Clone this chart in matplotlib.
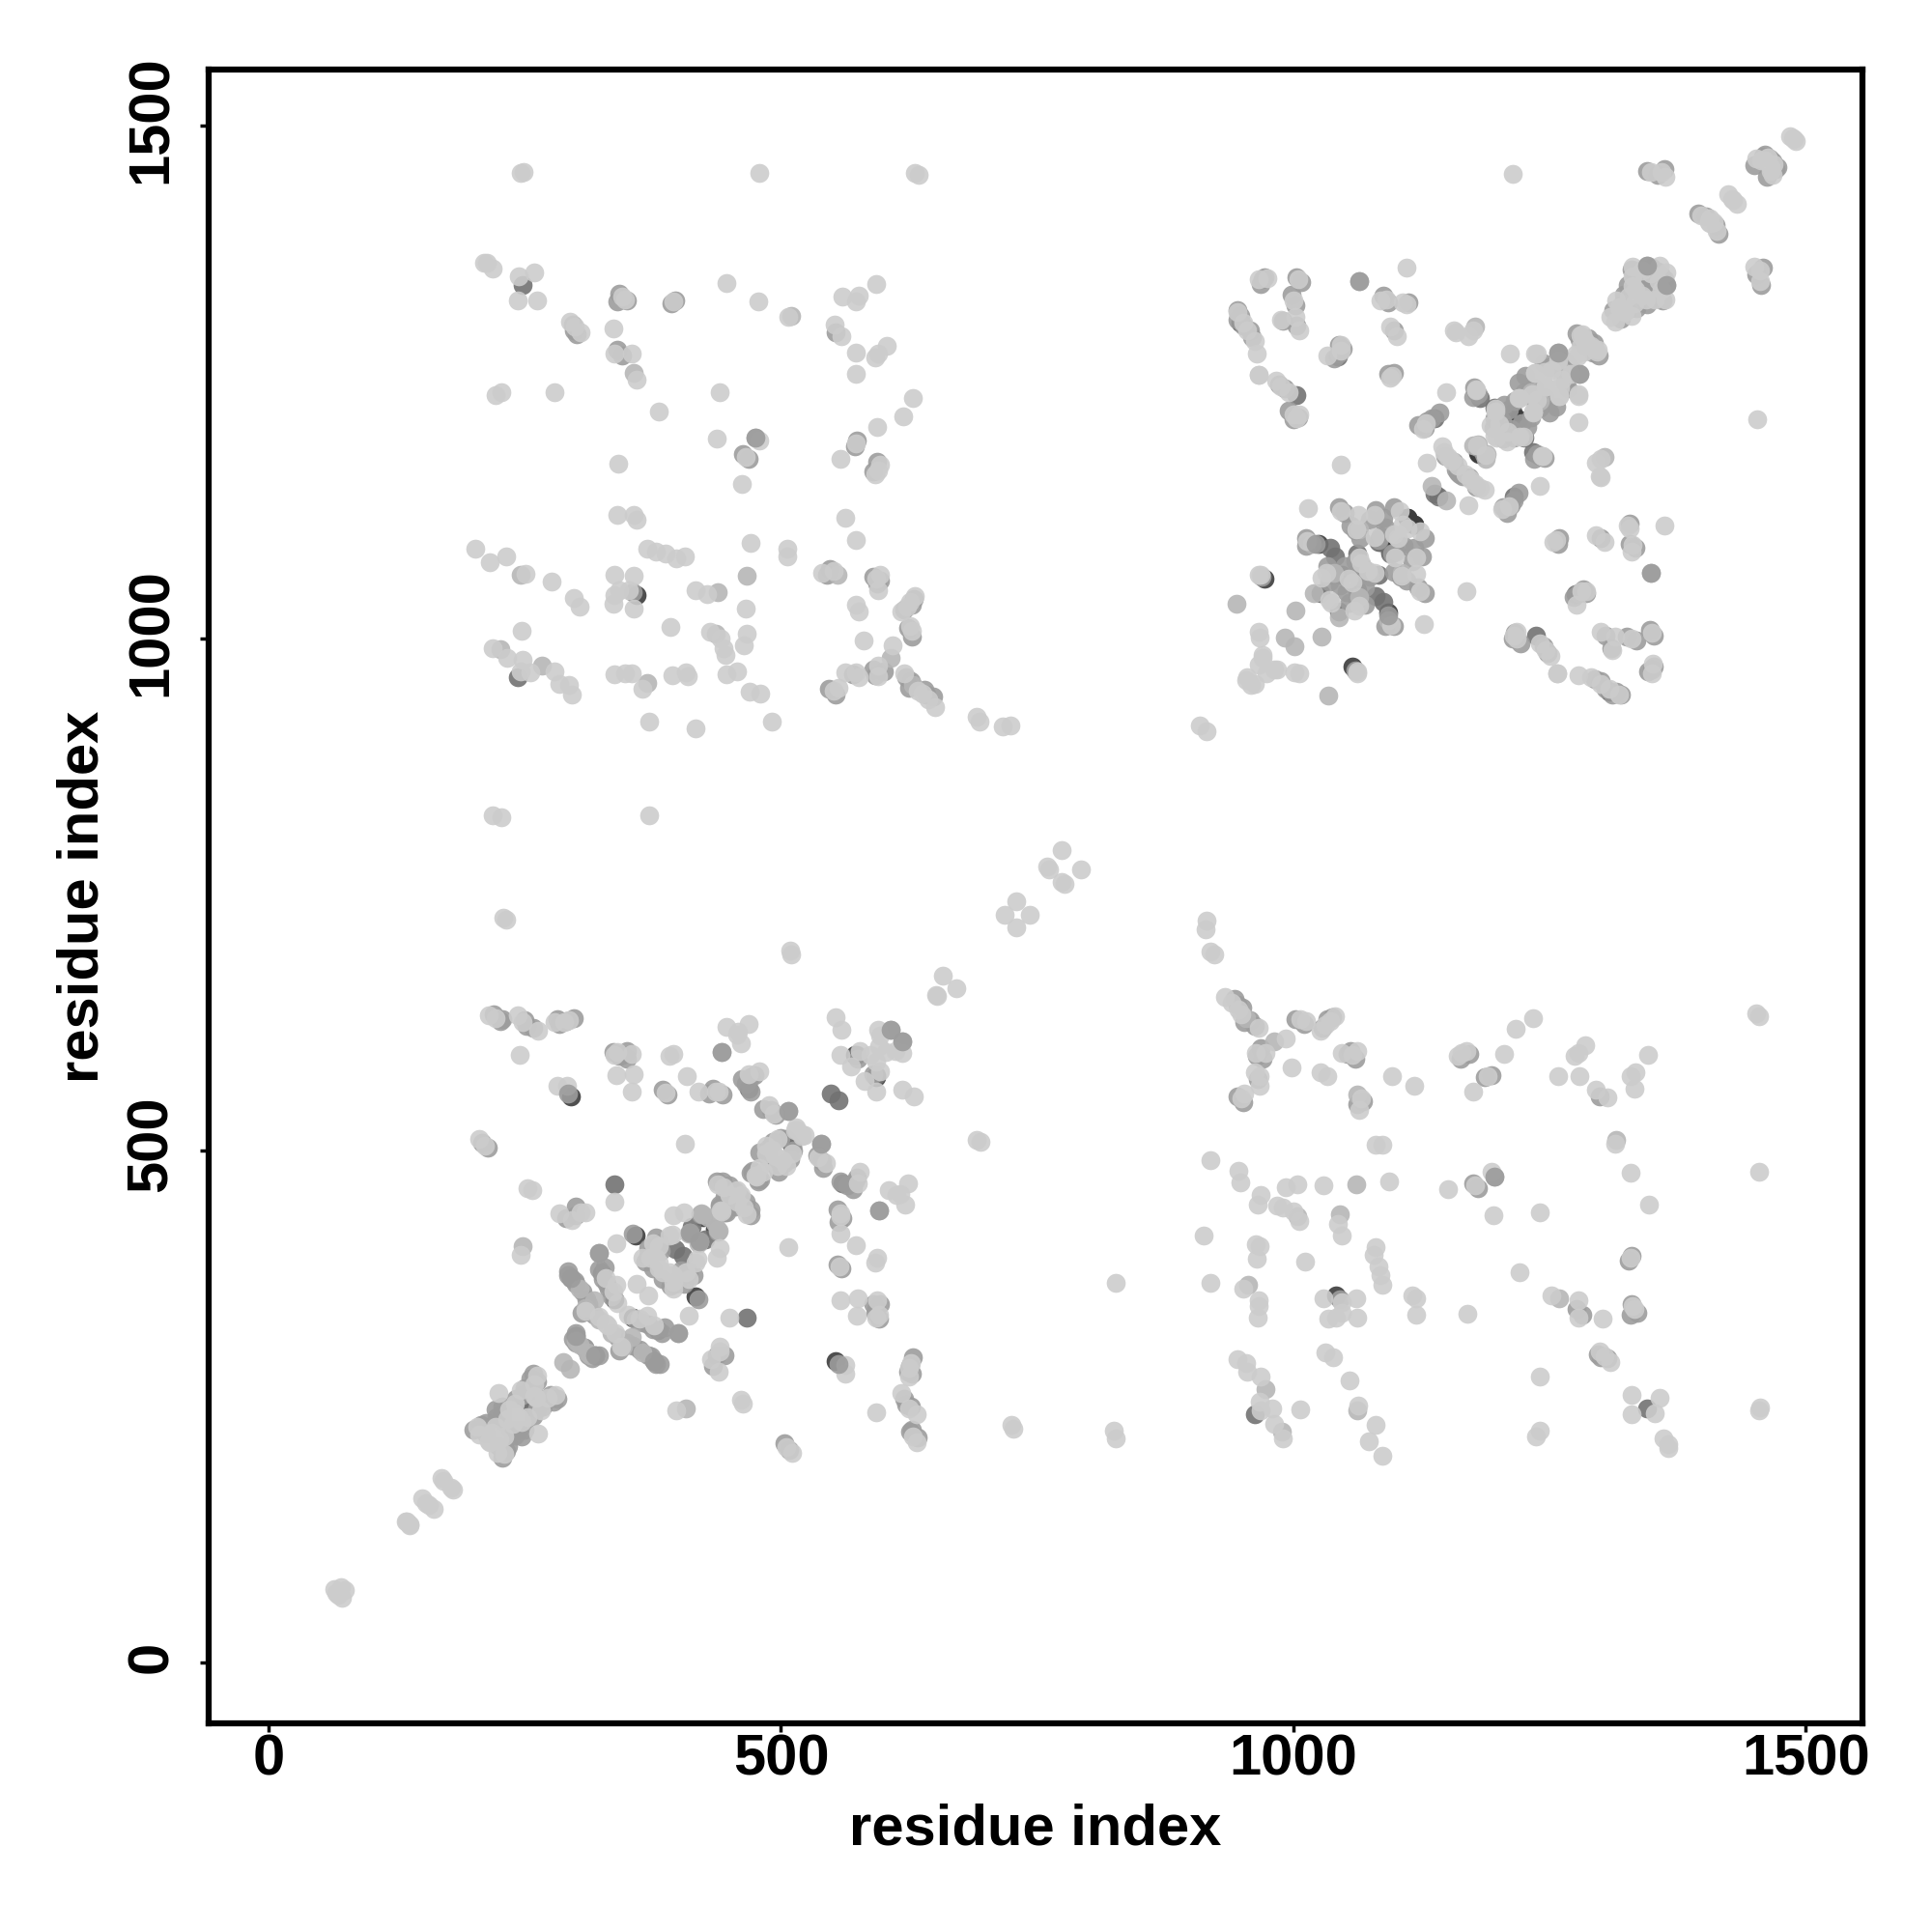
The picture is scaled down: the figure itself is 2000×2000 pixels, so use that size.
import numpy as np
import matplotlib
matplotlib.use("Agg")
import matplotlib.pyplot as plt
from matplotlib.transforms import ScaledTranslation

plt.rcParams['font.family'] = ['Liberation Sans', 'DejaVu Sans']

# contact map, symmetric: only the x > y half is listed, the rest is mirrored below
contacts_darkest = [(1118, 1111), (1111, 1118), (1308, 948), (1092, 1025), (1058, 972), (1094, 1085),
                    (1042, 359), (1180, 1181), (1220, 1214), (417, 358), (355, 337), (435, 424), (572, 593), (553, 295)]

contacts_vdark = [(1083, 1062), (1080, 1041), (1088, 1036), (1062, 1047), (1083, 1094), (1044, 1026),
                  (1215, 1138), (1234, 1182), (1225, 1196), (1275, 1043), (1237, 1003), (1141, 1138),
                  (1345, 248), (962, 243), (426, 413), (380, 325), (467, 337), (319, 300),
                  (376, 295), (556, 549), (511, 505), (404, 397), (258, 257), (255, 251), (560, 468), (593, 574)]

contacts_dark = [(981, 607), (1062, 555), (1045, 438), (1061, 467), (1196, 475), (956, 369), (1004, 436), (973, 267),
                 (1062, 246), (989, 226), (1315, 510), (1259, 356), (1149, 1135), (1349, 1064), (1092, 1018),
                 (1064, 1040), (1106, 1064), (1279, 1258), (1364, 1345), (1304, 1177), (1189, 1180), (1240, 1232),
                 (1188, 1175), (1259, 1264), (400, 322), (407, 248), (539, 507), (439, 422), (429, 435), (423, 438),
                 (420, 411), (410, 419), (354, 318), (335, 322), (346, 309), (365, 303), (618, 607), (596, 442),
                 (1002, 1027), (1044, 1020), (954, 629), (311, 303), (314, 300), (1034, 944), (1001, 992), (294, 287)]

contacts_mid = [(933, 650), (1031, 623), (1033, 573), (967, 573), (1160, 592), (1221, 381), (945, 296), (1042, 337),
                (1055, 276), (1274, 592), (1346, 593), (1329, 573), (1314, 507), (1302, 336), (1454, 246), (1452, 634),
                (1450, 1363), (1455, 1349), (1433, 1424), (1323, 1318), (1333, 1327), (1271, 1258), (1262, 1252),
                (1234, 1221), (1204, 1126), (1210, 1129), (1240, 1149), (1242, 1178), (1281, 1046), (1127, 1014),
                (1095, 1013), (1064, 1032), (1059, 1027), (1073, 1066), (1064, 1079), (1120, 1079), (1120, 1063),
                (1099, 1079), (962, 955), (954, 959), (1218, 1000), (1215, 1003), (1300, 1006), (1351, 975),
                (1350, 966), (1308, 951), (1257, 966), (1278, 964), (630, 553), (618, 559), (514, 520), (544, 488),
                (558, 439), (558, 419), (592, 391), (596, 340), (563, 282), (625, 279), (440, 304), (432, 296),
                (395, 372), (407, 381), (391, 381), (369, 339), (376, 329), (338, 322), (344, 309), (272, 259),
                (247, 235), (238, 233), (263, 224), (616, 458)]

contacts_light = [
    # lower right block
    (915, 724), (914, 716), (919, 694), (923, 691), (940, 644), (946, 638), (949, 633), (966, 620), (993, 609),
    (1007, 628), (1012, 626), (1026, 617), (1036, 626), (1041, 631), (963, 595), (973, 595), (998, 581), (1026, 576),
    (962, 576), (967, 563), (949, 551), (952, 556), (1047, 595), (1058, 593), (1062, 597), (1096, 573), (1118, 563),
    (1066, 551), (1064, 540), (1164, 595), (1169, 597), (1175, 558), (1190, 573), (1206, 594), (1217, 619), (1234, 629),
    (1080, 506), (1087, 506), (919, 491), (946, 480), (948, 469), (968, 457), (965, 447), (993, 464), (1004, 467),
    (1029, 466), (1093, 470), (1151, 462), (1177, 466), (1193, 479), (1195, 437), (1240, 440), (984, 446), (990, 444),
    (1000, 441), (1006, 431), (1047, 417), (1043, 428), (912, 417), (963, 409), (967, 407), (964, 394), (1011, 392),
    (1080, 406), (1078, 398), (1083, 387), (1085, 378), (1087, 369), (827, 371), (919, 371), (951, 365), (966, 354),
    (1029, 356), (1061, 356), (1047, 352), (1116, 359), (1120, 356), (965, 337), (966, 348), (1034, 336), (1047, 342),
    (1062, 337), (1120, 340), (1170, 341), (954, 293), (955, 284), (968, 279), (967, 255), (968, 246), (979, 248),
    (981, 233), (990, 219), (1007, 247), (1039, 298), (1031, 303), (1063, 251), (1080, 232), (1074, 216), (1087, 202),
    (825, 227), (827, 219), (1240, 279), (1240, 227), (1237, 221), (1454, 631), (1285, 603), (1278, 595), (1258, 573),
    (1279, 573), (1295, 559), (1306, 552), (1333, 560), (1334, 576), (1329, 478), (1454, 479), (1347, 447), (1329, 395),
    (1252, 359), (1278, 354), (1331, 348), (1278, 337), (1333, 345), (1299, 304), (1304, 299), (1309, 294), (1330, 262),
    (1330, 243), (1357, 259), (1353, 244), (1455, 249), (1361, 219), (1366, 213), (1366, 210),
    # middle of the diagonal
    (730, 718), (743, 730), (774, 762), (777, 760), (793, 774), (671, 658), (652, 651), (72, 64), (74, 71), (68, 66),
    (138, 135), (134, 138), (161, 150), (156, 154), (178, 171), (180, 169), (915, 909), (725, 232), (727, 229),
    (691, 510), (695, 509),
    # lower left block
    (520, 516), (523, 515), (536, 493), (577, 479), (575, 468), (558, 436), (573, 408), (557, 387), (594, 395),
    (605, 461), (624, 468), (621, 447), (613, 457), (593, 558), (597, 577), (593, 587), (568, 582), (618, 595),
    (602, 596), (612, 597), (507, 406), (558, 354), (575, 356), (594, 354), (574, 339), (593, 337), (563, 291),
    (627, 293), (625, 288), (617, 263), (625, 248), (632, 243), (629, 221), (632, 215), (593, 245), (505, 211),
    (511, 205), (461, 257), (463, 253), (398, 246), (440, 309), (439, 284), (450, 337), (410, 339), (437, 395),
    (440, 405), (418, 394), (410, 375), (395, 378), (395, 365), (370, 359), (362, 336), (351, 340), (329, 331),
    (385, 381), (417, 391), (464, 444), (457, 450), (442, 441), (461, 457), (476, 475), (483, 479), (511, 497),
    (505, 485), (495, 494), (501, 491), (497, 485), (467, 438), (280, 262), (266, 246), (261, 259), (230, 204),
    (223, 205), (216, 215), (230, 221), (253, 240), (244, 240), (225, 218),
    # upper right block
    (1362, 1110), (1326, 1110), (1328, 1107), (1295, 1101), (1304, 1094), (1331, 1091), (1330, 1085), (1256, 1096),
    (1254, 1094), (1286, 1046), (1276, 1033), (1218, 1006), (1240, 995), (1246, 988), (1251, 983), (1314, 1002),
    (1330, 1000), (1350, 1005), (1311, 988), (1257, 966), (1290, 962), (1300, 955), (1318, 945), (1062, 966),
    (1006, 966), (1001, 967), (981, 970), (984, 970), (974, 966), (1124, 1046), (1106, 1061), (1111, 1107),
    (1124, 1104), (1102, 1098), (1058, 1054), (1037, 1035), (1169, 1046), (1171, 1130), (1168, 1160), (1173, 1155),
    (1177, 1151), (1182, 1147), (1187, 1145), (1209, 1201), (1208, 1192), (1221, 1197), (1234, 1220), (1238, 1233),
    (1259, 1236), (1278, 1236), (1278, 1211), (1260, 1245), (1293, 1283), (1296, 1280), (1188, 1179), (1300, 1157),
    (1295, 1171), (1490, 1485), (1488, 1487), (1468, 1452), (1469, 1463), (1466, 1456), (1466, 1460), (1413, 1398),
    (1410, 1406), (1405, 1406), (1429, 1428), (1455, 1359), (1453, 1214), (1364, 1357), (1363, 1331), (1353, 1331),
    (1344, 1331), (1340, 1334), (1359, 1340), (1356, 1349), (1330, 1315), (1314, 1309), (1297, 1282), (1290, 1285),
    (1284, 1280), (1278, 1238), (1259, 1236), (1275, 1277), (1246, 1246), (1224, 1197), (1243, 1178), (1299, 1158),
    (1300, 1175), (1062, 968), (1196, 1198),
]

# second pass over the picture, circles that thicken the blobs
contacts_light_more = [
    (1320, 945), (1315, 948), (1305, 951), (1300, 958), (1294, 960), (1311, 945), (1350, 970), (1352, 972), (1346, 968),
    (1348, 1008), (1352, 1003), (1310, 990), (1305, 1003), (1325, 1002), (1335, 998), (1216, 1005), (1222, 995),
    (1214, 1000), (1244, 992), (1248, 986), (1286, 1044), (1278, 1044), (1283, 1048), (1273, 1040), (1328, 1112),
    (1334, 1088), (1328, 1092), (1300, 1098), (1258, 1092), (1259, 1098), (945, 642), (950, 640), (943, 648), (952, 625),
    (958, 627), (962, 622), (1002, 628), (1010, 624), (1028, 620), (1033, 628), (1038, 630), (1053, 594), (1060, 590),
    (1056, 597), (964, 592), (968, 600), (970, 590), (965, 570), (945, 553), (951, 547), (1062, 545), (1068, 548),
    (1163, 590), (1172, 594), (1187, 572), (1193, 574), (1175, 468), (1180, 463), (1297, 301), (1306, 297), (1300, 298),
    (1330, 350), (1336, 342), (1329, 340), (1282, 340), (1276, 345), (1330, 397), (1327, 393), (1299, 553),
    (559, 385), (555, 389), (470, 443), (466, 450), (460, 455), (455, 445), (450, 450), (470, 437), (440, 445), (447, 440),
    (503, 488), (509, 492), (512, 500), (493, 487), (498, 479), (480, 472), (472, 478), (478, 470),
    (397, 370), (400, 375), (392, 368), (385, 375), (402, 383), (410, 382), (405, 370), (415, 378),
    (365, 332), (370, 330), (375, 326), (384, 322), (386, 328), (340, 318), (345, 312), (350, 312), (355, 310), (342, 305),
    (373, 299), (378, 292), (382, 292), (370, 300), (362, 306), (316, 297), (322, 300), (308, 308), (300, 312),
    (270, 258), (275, 262), (282, 258), (278, 255), (268, 250), (262, 248), (258, 241), (250, 228), (243, 228), (247, 221),
    (228, 200), (232, 207), (224, 212), (234, 212), (240, 222), (236, 228), (555, 443), (560, 434), (556, 430),
    (565, 466), (558, 470), (570, 462), (574, 474), (572, 470), (535, 495), (540, 490), (541, 483), (627, 250), (622, 252),
    (620, 258), (626, 226), (628, 228), (633, 220), (624, 284), (628, 282), (626, 290), (629, 298), (445, 300), (437, 300),
    (434, 290), (508, 208), (503, 214), (593, 345), (597, 350), (590, 350), (596, 336), (592, 342),
    (1172, 1157), (1165, 1158), (1178, 1148), (1160, 1162), (1186, 1180), (1223, 1210), (1240, 1225), (1245, 1235),
    (1237, 1228), (1232, 1216), (1228, 1206), (1215, 1196), (1212, 1204), (1205, 1195), (1215, 1135), (1205, 1128),
    (1212, 1130), (1220, 1142), (1208, 1122), (1240, 1178), (1245, 1176), (1238, 1180), (1235, 1175), (1090, 1012),
    (1098, 1012), (1105, 1060), (1110, 1056), (1122, 1050), (1128, 1044), (1116, 1075), (1125, 1080), (1118, 1088),
    (1108, 1090), (1100, 1085), (1128, 1098), (1075, 1060), (1067, 1070), (1060, 1062), (1070, 1050), (1062, 1038),
    (1070, 1033), (1055, 1035), (1052, 1045), (1098, 1065), (1320, 1312), (1325, 1320), (1335, 1322), (1345, 1326),
    (1350, 1338), (1360, 1330), (1345, 1345), (1362, 1350), (1355, 1358), (1334, 1340), (1342, 1338), (1293, 1288),
    (1286, 1284), (1292, 1279), (1298, 1276), (1265, 1250), (1270, 1265), (1268, 1244), (1256, 1226), (1250, 1220),
    (1458, 1362), (1452, 1355), (1456, 1345), (1470, 1458), (1462, 1450), (1465, 1468), (1472, 1460), (1412, 1403),
    (1415, 1395), (1060, 969), (1045, 355), (358, 335), (438, 421), (575, 590), (1096, 1083),
]

# grey circles that sit on top of the lighter ones
contacts_top = [(1196, 475), (1279, 1258), (1364, 1345), (539, 507), (376, 295), (319, 300), (400, 322), (1092, 1022),
                (1349, 1064), (420, 411), (618, 607), (596, 442), (419, 355), (556, 292)]

# greys are a bit see through, overlaps come out slightly darker like in the picture
level_colors = ['#3c3c3c', '#727272', '#9c9c9c', '#b6b6b6', '#cccccc', '#cccccc', '#9c9c9c']
all_levels = [contacts_darkest, contacts_vdark, contacts_light_more, contacts_dark, contacts_mid,
              contacts_light, contacts_top]

tick_values = [0, 500, 1000, 1500]

fig = plt.figure(figsize=(20, 20), dpi=100)
ax = fig.add_axes([0.108, 0.108, 0.8558, 0.856])

for pts, col in zip(all_levels, level_colors):
    arr = np.array(pts)
    ax.scatter(np.concatenate([arr[:, 0], arr[:, 1]]), np.concatenate([arr[:, 1], arr[:, 0]]),
               s=200, c=col, alpha=0.9, linewidths=0)

ax.set_xlim(-58.5, 1554.9)
ax.set_ylim(-59, 1555)
ax.set_xticks(tick_values)
ax.set_yticks(tick_values)
ax.tick_params(length=6.5, width=2.5, labelsize=43)
ax.tick_params(axis='x', pad=1)
ax.tick_params(axis='y', pad=16, labelrotation=90)
for lab in ax.get_xticklabels() + ax.get_yticklabels():
    lab.set_fontweight('bold')
# rotated labels sit a little low otherwise
nudge = ScaledTranslation(0, 0.064, fig.dpi_scale_trans)
for lab in ax.get_yticklabels():
    lab.set_verticalalignment('center')
    lab.set_transform(lab.get_transform() + nudge)
for sp in ax.spines.values():
    sp.set_linewidth(4.5)

ax.set_xlabel('residue index', fontsize=43, fontweight='bold', labelpad=12)
ax.set_ylabel('residue index', fontsize=43, fontweight='bold', labelpad=12)

fig.savefig('out.png', dpi=100)
